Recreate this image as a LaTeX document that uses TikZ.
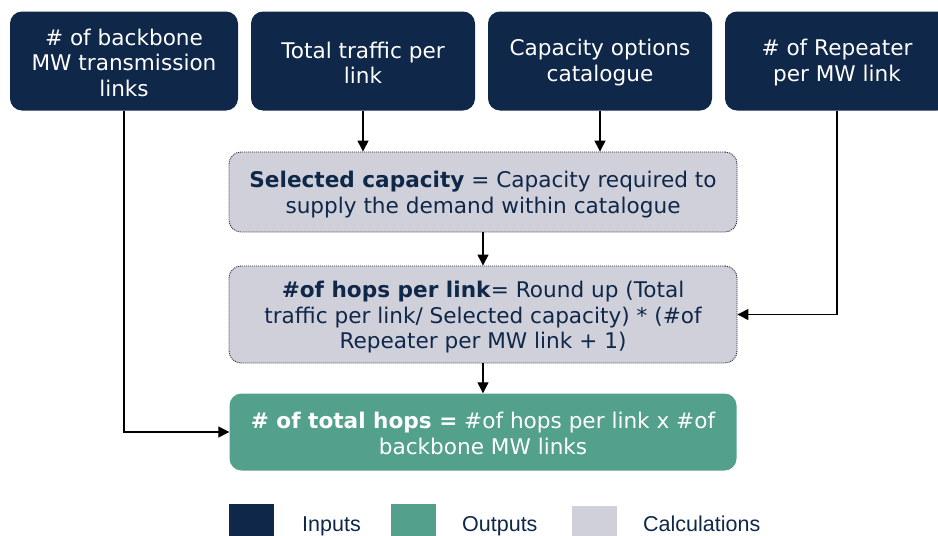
\documentclass[tikz,border=0pt]{standalone}
\usepackage{fontspec}
\setmainfont{DejaVu Sans}
\newfontfamily\legendfont{Liberation Sans}
\usetikzlibrary{arrows.meta,positioning,calc}
\definecolor{inNavy}{RGB}{15,39,72}
\definecolor{outGreen}{RGB}{83,161,141}
\definecolor{calcGrey}{RGB}{208,208,219}
\definecolor{calcEdge}{RGB}{40,40,50}
% pushes the first line of a box down a little
\newcommand{\droptop}[1]{\rule{0pt}{#1}}

\begin{document}
\begin{tikzpicture}[x=1pt, y=-1pt,
    inbox/.style={rectangle, rounded corners=12pt, fill=inNavy, text=white,
      align=center, minimum height=99pt, inner sep=0pt,
      font=\fontsize{21.6}{25.6}\selectfont},
    calcbox/.style={rectangle, rounded corners=12pt, fill=calcGrey, draw=calcEdge,
      dash pattern=on 1pt off 1pt, line width=0.9pt, text=inNavy, align=center, minimum width=508pt,
      inner sep=0pt, font=\fontsize{21.6}{25.6}\selectfont},
    outbox/.style={rectangle, rounded corners=12pt, fill=outGreen, text=white,
      align=center, minimum width=507pt, minimum height=77pt, inner sep=0pt,
      font=\fontsize{21.6}{25.6}\selectfont},
    flow/.style={-{Triangle[length=11pt,width=11pt]}, line width=1.3pt, black},
    legsq/.style={rectangle, minimum size=45pt, inner sep=0pt},
    legtxt/.style={anchor=base west, inner sep=0pt, text=inNavy,
      font=\legendfont\fontsize{21.5}{24}\selectfont}]
    \useasboundingbox (0,0) rectangle (938,536);
    \clip (0,0) rectangle (938,536);
    % inputs
    \node[inbox, minimum width=228pt] (backbone) at (124, 61) {\droptop{19.8pt}\# of backbone\\MW transmission\\links};
    \node[inbox, minimum width=224pt] (traffic) at (363, 61) {\droptop{19.8pt}Total traffic per\\link};
    \node[inbox, minimum width=224pt] (catalogue) at (600, 61) {\droptop{19.8pt}Capacity options\\catalogue};
    \node[inbox, minimum width=224pt] (repeater) at (837, 61) {\droptop{19.8pt}\# of Repeater\\per MW link};
    % calculations
    \node[calcbox, minimum height=80pt] (selcap) at (483, 192)
      {\droptop{22pt}\textbf{Selected capacity} = Capacity required to\\supply the demand within catalogue};
    \node[calcbox, minimum height=97pt] (hops) at (483, 314.5)
      {\droptop{22pt}\textbf{\#of hops per link}= Round up (Total\\traffic per link/ Selected capacity) * (\#of\\Repeater per MW link + 1)};
    % output
    \node[outbox] (total) at (483, 432)
      {\droptop{19.8pt}\textbf{\# of total hops =} \#of hops per link x \#of\\backbone MW links};
    % connectors
    \draw[flow] (traffic.south) -- (traffic.south |- selcap.north);
    \draw[flow] (catalogue.south) -- (catalogue.south |- selcap.north);
    \draw[flow] (selcap) -- (hops);
    \draw[flow] (hops) -- (total);
    \draw[flow] (repeater.south) |- (hops.east);
    \draw[flow] (backbone.south) |- (total.west);
    % legend
    \node[legsq, fill=inNavy] (legin) at (251.5, 526.5) {};
    \node[legtxt] (legintxt) at (302, 531) {Inputs};
    \node[legsq, fill=outGreen] (legout) at (413.5, 526.5) {};
    \node[legtxt] (legouttxt) at (462, 531) {Outputs};
    \node[legsq, fill=calcGrey] (legcalc) at (594.5, 528) {};
    \node[legtxt] (legcalctxt) at (643, 531) {Calculations};
\end{tikzpicture}
\end{document}
